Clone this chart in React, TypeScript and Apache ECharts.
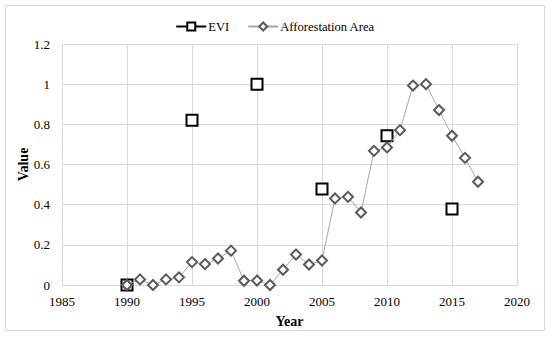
import React, { useEffect, useRef } from "react";
import * as echarts from "echarts";

const eviYears = [1990, 1995, 2000, 2005, 2010, 2015];
const eviValues = [0, 0.82, 1.0, 0.478, 0.743, 0.378];

const affYears = [
  1990, 1991, 1992, 1993, 1994, 1995, 1996, 1997, 1998, 1999, 2000, 2001, 2002, 2003,
  2004, 2005, 2006, 2007, 2008, 2009, 2010, 2011, 2012, 2013, 2014, 2015, 2016, 2017,
];
const affValues = [
  0, 0.028, 0, 0.028, 0.038, 0.114, 0.104, 0.132, 0.171, 0.021, 0.022, 0, 0.076, 0.152,
  0.102, 0.122, 0.431, 0.439, 0.361, 0.668, 0.685, 0.771, 0.993, 1.0, 0.871, 0.743, 0.633, 0.514,
];

const FONT = '"Liberation Serif", "Times New Roman", Times, serif';

export default function App() {
  const ref = useRef<HTMLDivElement>(null);
  useEffect(() => {
    if (!ref.current) return;
    const chart = echarts.init(ref.current, null, { renderer: "svg" });
    chart.setOption({
      animation: false,
      backgroundColor: "#fff",
      textStyle: { fontFamily: FONT },
      graphic: [
        {
          type: "rect",
          shape: { x: 5.5, y: 5.5, width: 539, height: 325 },
          style: { fill: "none", stroke: "#d9d9d9", lineWidth: 1 },
          silent: true,
        },
      ],
      legend: {
        top: 15,
        left: "center",
        itemWidth: 30,
        itemHeight: 10,
        itemGap: 18,
        textStyle: { fontFamily: FONT, fontSize: 12.6, color: "#000", padding: [0, 0, 0, -3] },
        data: [
          { name: "EVI", lineStyle: { width: 2, color: "#000" } },
          { name: "Afforestation Area" },
        ],
      },
      grid: { left: 62, right: 33, top: 44, bottom: 52 },
      xAxis: {
        type: "value",
        min: 1985,
        max: 2020,
        interval: 5,
        name: "Year",
        nameLocation: "middle",
        nameGap: 29,
        nameMoveOverlap: false,
        nameTextStyle: { fontFamily: FONT, fontSize: 14, fontWeight: "bold", color: "#000" },
        axisLine: { show: true, lineStyle: { color: "#d9d9d9" } },
        axisTick: { show: false },
        axisLabel: {
          fontFamily: FONT,
          fontSize: 13,
          color: "#000",
          margin: 10,
          formatter: (v: number) => String(v),
        },
        splitLine: { show: true, lineStyle: { color: "#d9d9d9", width: 1 } },
      },
      yAxis: {
        type: "value",
        min: 0,
        max: 1.2,
        interval: 0.2,
        name: "Value",
        nameLocation: "middle",
        nameGap: 32,
        nameMoveOverlap: false,
        nameTextStyle: { fontFamily: FONT, fontSize: 14, fontWeight: "bold", color: "#000" },
        axisLine: { show: false },
        axisTick: { show: false },
        axisLabel: { fontFamily: FONT, fontSize: 13, color: "#000", margin: 12 },
        splitLine: { show: true, lineStyle: { color: "#d9d9d9", width: 1 } },
      },
      series: [
        {
          name: "EVI",
          type: "line",
          data: eviYears.map((y, i) => [y, eviValues[i]]),
          symbol: "rect",
          symbolSize: 11,
          showAllSymbol: true,
          itemStyle: { color: "#fff", borderColor: "#000", borderWidth: 2 },
          lineStyle: { width: 0, color: "#000" },
          z: 2,
        },
        {
          name: "Afforestation Area",
          type: "line",
          data: affYears.map((y, i) => [y, affValues[i]]),
          symbol: "diamond",
          symbolSize: 10,
          showAllSymbol: true,
          itemStyle: { color: "#fff", borderColor: "#595959", borderWidth: 2 },
          lineStyle: { color: "#a6a6a6", width: 1 },
          z: 3,
        },
      ],
    });
    return () => chart.dispose();
  }, []);
  return (
    <div
      ref={ref}
      style={{ position: "fixed", left: 0, top: 0, width: 550, height: 337 }}
    />
  );
}
